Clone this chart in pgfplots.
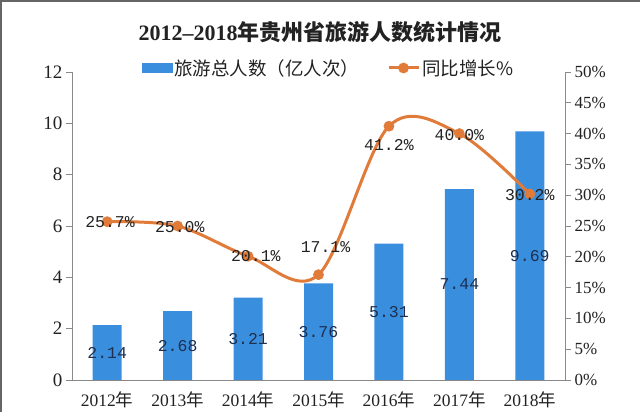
\documentclass[border=0pt]{standalone}
\usepackage{fontspec}
\setmainfont{Liberation Serif}
\newfontfamily\cjk{Noto Sans CJK SC}
\newfontfamily\mono{Liberation Mono}
\usepackage{pgfplots}
\pgfplotsset{compat=1.18}
\pgfplotsset{longline legend/.style={legend image code/.code={\draw[mark repeat=2,mark phase=2,##1] plot coordinates {(0pt,0pt) (15pt,0pt) (30pt,0pt)};}}}
\definecolor{barblue}{HTML}{3A8EDE}
\definecolor{lineorange}{HTML}{E07B39}
\definecolor{axgray}{HTML}{8A8A8A}
\definecolor{txt}{HTML}{222222}
\definecolor{lbl}{HTML}{1E2F4F}
\begin{document}
\begin{tikzpicture}[x=1pt,y=1pt]
\path[use as bounding box] (-72,-32) rectangle (568,380);
\draw[color=gray!80!black, line width=2.5pt] (-70.75,-32) -- (-70.75,378.75) -- (568,378.75);
\node[font=\fontsize{22}{23}\selectfont\bfseries, text=txt] at (248,348) {2012--2018{\cjk 年贵州省旅游人数统计情况}};
% ---------- bars (left axis)
\begin{axis}[at={(0,0)}, anchor=south west, scale only axis,
  width=493pt, height=308pt,
  xmin=-0.5, xmax=6.5, ymin=0, ymax=12,
  axis y line*=left, axis x line*=bottom,
  xtick={0,...,6},
  xticklabels={2012{\cjk 年},2013{\cjk 年},2014{\cjk 年},2015{\cjk 年},2016{\cjk 年},2017{\cjk 年},2018{\cjk 年}},
  minor xtick={-0.5,0.5,...,6.5},
  x tick style={draw=none},
  minor x tick style={axgray, line width=0.8pt},
  minor tick length=6pt,
  ytick={0,2,...,12},
  tick align=outside, major tick length=6pt,
  axis line style={axgray, line width=0.8pt, -},
  y tick style={axgray, line width=0.8pt},
  tick label style={font=\fontsize{17.5}{17.5}\selectfont, text=txt},
  yticklabel style={font=\fontsize{19}{19}\selectfont},
  /pgf/number format/assume math mode=true,
  xticklabel style={yshift=-2pt},
  clip=false,
]
\addplot[ybar, bar width=29pt, fill=barblue, draw=none] coordinates {
  (0,2.14) (1,2.68) (2,3.21) (3,3.76) (4,5.31) (5,7.44) (6,9.69)};
\addplot[draw=none, mark=none, nodes near coords, point meta=explicit symbolic,
  every node near coord/.style={anchor=center, font=\mono\fontsize{16.5}{16.5}\selectfont, text=lbl}]
  coordinates {
  (0,1.07) [2.14] (1,1.34) [2.68] (2,1.605) [3.21] (3,1.88) [3.76]
  (4,2.655) [5.31] (5,3.72) [7.44] (6,4.845) [9.69]};
\end{axis}
% ---------- line (right axis)
\begin{axis}[at={(0,0)}, anchor=south west, scale only axis,
  width=493pt, height=308pt,
  xmin=-0.5, xmax=6.5, ymin=0, ymax=50,
  axis y line*=right, axis x line=none,
  ytick={0,5,...,50},
  yticklabel={\pgfmathprintnumber{\tick}\%},
  tick align=outside, major tick length=6pt,
  axis line style={axgray, line width=0.8pt, -},
  y tick style={axgray, line width=0.8pt},
  tick label style={font=\fontsize{17}{17}\selectfont, text=txt},
  /pgf/number format/assume math mode=true,
  clip=false,
  legend style={at={(0.52,1.013)}, anchor=center, draw=none, fill=none,
    font=\cjk\fontsize{18.5}{18.5}\selectfont, text=txt, legend columns=2,
    /tikz/every even column/.append style={column sep=26pt}},
  legend cell align=left,
]
\addlegendimage{legend image code/.code={\fill[barblue] (0pt,-4.5pt) rectangle (30pt,4.5pt);}}
\addlegendentry{旅游总人数（亿人次）}
\addplot[lineorange, line width=3pt, smooth, tension=0.55, mark=*, mark size=3.8pt,
  mark options={fill=lineorange, draw=none},
  longline legend]
  coordinates {(0,25.7) (1,25.0) (2,20.1) (3,17.1) (4,41.2) (5,40.0) (6,30.2)};
\addlegendentry{同比增长\%}
\addplot[draw=none, mark=none, forget plot, nodes near coords, point meta=explicit symbolic,
  every node near coord/.style={anchor=center, font=\mono\fontsize{16.5}{16.5}\selectfont, text=txt}]
  coordinates {
  (0.04,25.6) [25.7\%] (1.03,24.9) [25.0\%] (2.11,20.1) [20.1\%] (3.1,21.5) [17.1\%]
  (4.0,38.1) [41.2\%] (5.0,39.7) [40.0\%] (6.0,30.1) [30.2\%]};
\end{axis}
\end{tikzpicture}
\end{document}
